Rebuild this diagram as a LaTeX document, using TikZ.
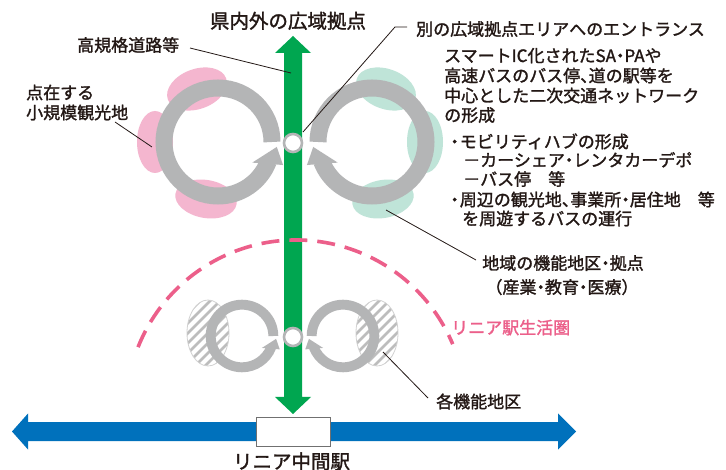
\documentclass[tikz,border=0pt]{standalone}
\usepackage{fontspec}
\newfontfamily\jpfont{Noto Sans CJK JP}[FakeBold=1.5]
\usetikzlibrary{calc}
\definecolor{txtc}{HTML}{231815}
\definecolor{greenc}{HTML}{00A650}
\definecolor{bluec}{HTML}{0071BC}
\definecolor{ringc}{HTML}{B4B5B6}
\definecolor{pinkblob}{HTML}{F4B6CF}
\definecolor{tealblob}{HTML}{BFE4D8}
\definecolor{pinkline}{HTML}{EC5F8A}
\definecolor{hatchc}{HTML}{BDBDBD}
\definecolor{hatchedge}{HTML}{D2D2D2}
\definecolor{boxedge}{HTML}{707070}
\newcommand{\ringshape}[1]{%
  \draw[ringc, line width=#1] (0:54) arc[start angle=0, end angle=-339, radius=54];
  \fill[ringc] (31:40) -- (19.5:69) -- (4.8:59) -- cycle;
}
\newcommand{\nkt}{\kern-0.25em・\kern-0.25em}
\newcommand{\bul}{・\kern-0.2em}
\newcommand{\tou}{、\kern-0.5em}
\begin{document}
\begin{tikzpicture}[x=1pt,y=-1pt,
  lbl/.style={font=\jpfont\fontsize{17}{19}\selectfont, text=txtc, inner sep=0pt, text height=15pt, text depth=2pt},
  big/.style={font=\jpfont\fontsize{19.5}{22}\selectfont, text=txtc, inner sep=0pt, text height=17pt, text depth=2.5pt},
  leader/.style={draw=txtc, line width=0.8pt},
  hub/.style={circle, draw=ringc, line width=2.6pt, fill=white, minimum size=18pt, inner sep=0pt},
  stationbox/.style={draw=boxedge, line width=1.5pt, fill=white, minimum width=74pt, minimum height=29pt, inner sep=0pt}
]
\useasboundingbox (0,0) rectangle (726,470);
\fill[white] (0,0) rectangle (726,470);

% blobs around upper rings
\fill[pinkblob, shift={(197,89)}, rotate=20] (0,0) ellipse [x radius=31, y radius=20];
\fill[pinkblob, shift={(155,142)}] (0,0) ellipse [x radius=18, y radius=31];
\fill[pinkblob, shift={(206,199)}, rotate=-10] (0,0) ellipse [x radius=31, y radius=19];
\fill[tealblob, shift={(386,89)}, rotate=-20] (0,0) ellipse [x radius=31, y radius=20];
\fill[tealblob, shift={(425,142)}] (0,0) ellipse [x radius=18, y radius=31];
\fill[tealblob, shift={(383,199)}, rotate=10] (0,0) ellipse [x radius=31, y radius=19];

% hatched areas around lower rings
\foreach \cx in {208,377}{
  \begin{scope}
    \clip (\cx,333) ellipse [x radius=21, y radius=33];
    \fill[white] (\cx-25,295) rectangle (\cx+25,370);
    \foreach \k in {-70,-60,...,70}
      \draw[hatchc, line width=2.6pt] (\cx+\k-45,333+45) -- (\cx+\k+45,333-45);
  \end{scope}
  \draw[hatchedge, line width=0.8pt] (\cx,333) ellipse [x radius=21, y radius=33];
}

% green vertical arrow
\fill[greenc] (284,53) -- (275,53) -- (293,36) -- (311,53) -- (302,53) -- (302,397)
  -- (311,397) -- (293,414) -- (275,397) -- (284,397) -- cycle;

% blue horizontal arrow
\fill[bluec] (28,422) -- (28,413.5) -- (12,431.5) -- (28,449.5) -- (28,441) -- (558,441)
  -- (558,449.5) -- (576,431.5) -- (558,413.5) -- (558,422) -- cycle;

% rings
\begin{scope}[shift={(218,142)}] \ringshape{17pt} \end{scope}
\begin{scope}[shift={(372,142)}, xscale=-1] \ringshape{17pt} \end{scope}
\begin{scope}[shift={(242,336)}, scale=0.58] \ringshape{9.9pt} \end{scope}
\begin{scope}[shift={(343,336)}, xscale=-0.58, yscale=0.58] \ringshape{9.9pt} \end{scope}

% hubs
\node[hub] (hubA) at (293,143) {};
\node[hub] (hubB) at (293,337) {};

% dashed living-area arc
\draw[pinkline, line width=3.6pt, dash pattern=on 18pt off 10pt]
  (296,410) ++(-158.3:170) arc[start angle=-158.3, end angle=-22.8, radius=170];

% station
\node[stationbox] (station) at (293.5,432) {};
\node[big] (stationlbl) at (291.5,461.5) {リニア中間駅};

% texts
\node[big] (title) at (288,21) {県内外の広域拠点};
\node[lbl, anchor=west] (kou) at (77,45) {高規格道路等};
\node[lbl, anchor=west] (ten1) at (26,92.5) {点在する};
\node[lbl, anchor=west] (ten2) at (26,112.5) {小規模観光地};
\node[lbl, anchor=west] (ent) at (416,29) {別の広域拠点エリアへのエントランス};
\node[lbl, anchor=west] (d1) at (444,55.5) {スマートIC化されたSA\nkt PAや};
\node[lbl, anchor=west] (d2) at (444,75.5) {高速バスのバス停\tou 道の駅等を};
\node[lbl, anchor=west] (d3) at (444,95.5) {中心とした二次交通ネットワーク};
\node[lbl, anchor=west] (d4) at (444,115) {の形成};
\node[lbl, anchor=west] (d5) at (446,141.5) {\bul モビリティハブの形成};
\node[lbl, anchor=west] (d6) at (463,160) {－カーシェア\nkt レンタカーデポ};
\node[lbl, anchor=west] (d7) at (463,179) {－バス停　等};
\node[lbl, anchor=west] (d8) at (446,199.5) {\bul 周辺の観光地\tou 事業所\nkt 居住地　等};
\node[lbl, anchor=west] (d9) at (462,218.5) {を周遊するバスの運行};
\node[lbl] (func1) at (563,263) {地域の機能地区\nkt 拠点};
\node[lbl] (func2) at (562,287) {\kern-0.4em（産業\nkt 教育\nkt 医療）\kern-0.4em};
\node[lbl, anchor=west, text=pinkline] (seik) at (451,327.5) {リニア駅生活圏};
\node[lbl, anchor=west] (kaku) at (436,401.5) {各機能地区};

% leader lines
\coordinate (kouA) at (190,48);   \coordinate (kouB) at (291,73);
\coordinate (tenA) at (115,122);  \coordinate (tenB) at (152,147);
\coordinate (entA) at (407,27);   \coordinate (entM) at (395,27);  \coordinate (entB) at (303,132);
\coordinate (funA) at (476,260);  \coordinate (funB) at (386,210);
\coordinate (kakA) at (428,398);  \coordinate (kakB) at (383,352);
\draw[leader] (kouA) -- (kouB);
\draw[leader] (tenA) -- (tenB);
\draw[leader] (entA) -- (entM) -- (entB);
\draw[leader] (funA) -- (funB);
\draw[leader] (kakA) -- (kakB);
\end{tikzpicture}
\end{document}
